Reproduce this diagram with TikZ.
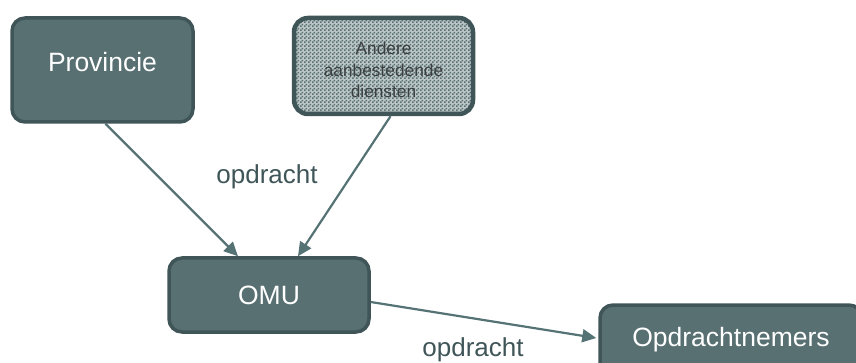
\documentclass[tikz,border=0pt]{standalone}
\usepackage{fontspec}
\setmainfont{Liberation Sans}
\usetikzlibrary{arrows.meta,calc,patterns.meta}

\definecolor{boxfill}{HTML}{587072}
\definecolor{boxline}{HTML}{3F5558}
\definecolor{linkcol}{HTML}{557275}
\definecolor{labelcol}{HTML}{3F5558}
\definecolor{smalltext}{HTML}{3A3F40}

% fine two-colour checkerboard for the secondary box
\tikzdeclarepattern{
  name=finecheck, type=uncolored,
  bounding box={(0,0) and (4pt,4pt)},
  tile size={(4pt,4pt)},
  code={\fill (0,0) rectangle (2pt,2pt); \fill (2pt,2pt) rectangle (4pt,4pt);}
}

\tikzset{
  orgbox/.style={draw=boxline, line width=3.5pt, fill=boxfill, rounded corners=13pt,
    text=white, font=\fontsize{26.5}{31}\selectfont, inner sep=0pt, align=center},
  otherbox/.style={draw=boxline, line width=4.5pt, rounded corners=14pt,
    text=smalltext, font=\fontsize{17.3}{21.5}\selectfont, inner sep=0pt, align=center},
  link/.style={draw=linkcol, line width=2.2pt, -{Triangle[length=14pt,width=13pt]}},
  linklabel/.style={text=labelcol, font=\fontsize{26}{30}\selectfont, inner sep=0pt}
}

\begin{document}
\begin{tikzpicture}[x=1pt, y=-1pt]
  \useasboundingbox (0,0) rectangle (856,363);

  % commissioning parties
  \node[orgbox, minimum width=181pt, minimum height=104pt] (prov) at (102.5,70)
    {\raisebox{17pt}{Provincie}};
  \fill[boxfill!40, rounded corners=14pt] (293,17) rectangle (474,115);
  \fill[pattern=finecheck, pattern color=boxfill, rounded corners=14pt] (293,17) rectangle (474,115);
  \node[otherbox, minimum width=179pt, minimum height=96pt] (other) at (383.5,66)
    {\raisebox{-4pt}[\height][\depth]{\parbox{170pt}{\centering Andere\\aanbestedende\\diensten}}};

  % central unit and contractors
  \node[orgbox, minimum width=200pt, minimum height=74pt] (omu) at (269,295) {OMU};
  \node[orgbox, minimum width=262pt, minimum height=72pt] (contr) at (731,341)
    {\raisebox{8pt}{Opdrachtnemers}};

  % assignments
  \draw[link] ($(prov.south)+(3,0)$) -- ($(omu.north)+(-31,0)$);
  \draw[link] ($(other.south)+(7,0)$) -- ($(omu.north)+(29,0)$);
  \draw[link] ($(omu.east)+(0,7)$) -- ($(contr.west)+(-2,-3)$);

  \node[linklabel] (lab1) at (267,177) {opdracht};
  \node[linklabel] (lab2) at (473,350) {opdracht};
\end{tikzpicture}
\end{document}
